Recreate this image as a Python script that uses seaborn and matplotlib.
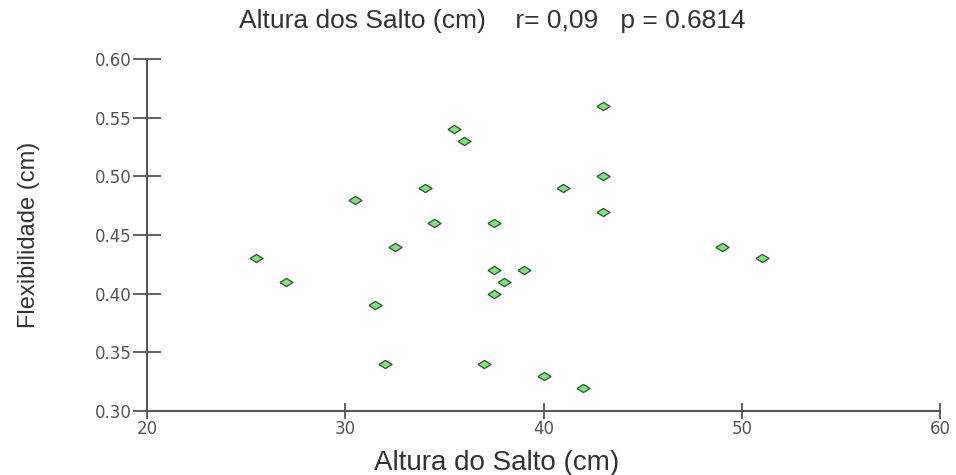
import numpy as np
import pandas as pd
import matplotlib
matplotlib.use('Agg')
import matplotlib.pyplot as plt
import seaborn as sns

# salto (cm) x flexibilidade (cm)
altura_salto = [25.5, 27, 30.5, 31.5, 32, 32.5, 34, 34.5, 35.5, 36, 37, 37.5,
                37.5, 37.5, 38, 39, 40, 41, 42, 43, 43, 43, 49, 51]
flexibilidade = [0.43, 0.41, 0.48, 0.39, 0.34, 0.44, 0.49, 0.46, 0.54, 0.53, 0.34, 0.46,
                 0.42, 0.40, 0.41, 0.42, 0.33, 0.49, 0.32, 0.56, 0.50, 0.47, 0.44, 0.43]
x_ticks = [20, 30, 40, 50, 60]
y_ticks = [0.30, 0.35, 0.40, 0.45, 0.50, 0.55, 0.60]

titulo = 'Altura dos Salto (cm)    r= 0,09   p = 0.6814'

df = pd.DataFrame({'salto': altura_salto, 'flex': flexibilidade})

sns.set_style('white')
plt.rcParams['font.family'] = ['Liberation Sans', 'DejaVu Sans']

fig = plt.figure(figsize=(9.56, 4.75), dpi=100)
ax = fig.add_axes([0.1538, 0.1347, 0.8295, 0.7411])

# losango achatado
losango = [(-1, 0), (0, 0.62), (1, 0), (0, -0.62), (-1, 0)]
sns.scatterplot(data=df, x='salto', y='flex', ax=ax, marker=losango, s=90,
                color='#6cf06c', edgecolor='#444444', linewidth=0.9, zorder=3)

ax.set_xlim(20, 60)
ax.set_ylim(0.30, 0.60)
ax.set_xticks(x_ticks)
ax.set_yticks(y_ticks)
ax.set_yticklabels(['%.2f' % v for v in y_ticks])

for s in ['top', 'right']:
    ax.spines[s].set_visible(False)
for s in ['left', 'bottom']:
    ax.spines[s].set_color('#555555')
    ax.spines[s].set_linewidth(1.5)

ax.tick_params(axis='y', left=True, direction='inout', length=20, width=1.3,
               color='#555555', labelsize=12, labelcolor='#555555', pad=1)
ax.tick_params(axis='x', bottom=True, direction='inout', length=11, width=1.3,
               color='#555555', labelsize=12, labelcolor='#555555', pad=1)
for lab in ax.get_xticklabels() + ax.get_yticklabels():
    lab.set_fontfamily('DejaVu Sans')

ax.set_xlabel('')
ax.set_ylabel('')
fig.text(0.52, 0.025, 'Altura do Salto (cm)', fontsize=20, color='#333333',
         ha='center', va='center')
fig.text(0.03, 0.505, 'Flexibilidade (cm)', fontsize=17, color='#333333',
         ha='center', va='center', rotation=90)

fig.text(0.515, 0.955, titulo, fontsize=19, color='#333333', ha='center', va='center')

fig.savefig('out.png', dpi=100)
